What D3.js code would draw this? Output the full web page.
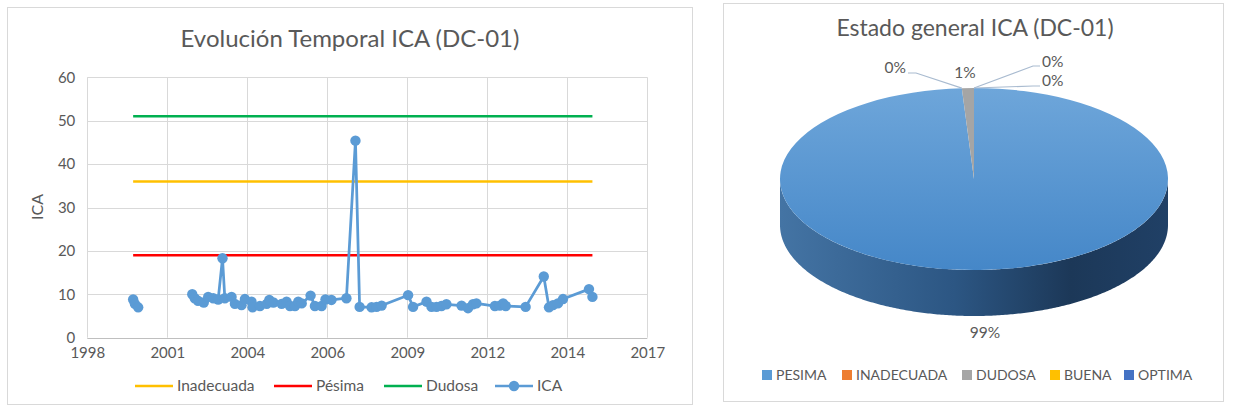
<!DOCTYPE html>
<html>
<head>
<meta charset="utf-8">
<script src="https://cdn.jsdelivr.net/npm/d3@7"></script>
<style>
  body { margin: 0; background: #fff; }
  svg text { font-family: Lato, "Open Sans", sans-serif; fill: #595959; }
</style>
</head>
<body>
<div id="graph"></div>
<script>
// fechas de muestreo y valores ICA (null = hueco en la serie)
var icaDates = ["2000-02-17","2000-03-10","2000-04-20", null,
  "2002-02-25","2002-03-28","2002-05-08","2002-07-19","2002-09-12","2002-11-14",
  "2003-01-15","2003-03-10","2003-04-08","2003-07-01","2003-08-12","2003-11-03","2003-12-15",
  "2004-03-07","2004-03-20","2004-06-20","2004-09-13","2004-10-15","2004-12-05",
  "2005-03-18","2005-05-19","2005-07-01","2005-09-01","2005-10-12","2005-11-24",
  "2006-03-15","2006-05-08","2006-07-31","2006-09-17","2006-12-01",
  "2007-06-06","2007-09-27","2007-11-18",
  "2008-04-15","2008-06-17","2008-08-19",
  "2009-07-16","2009-09-16",
  "2010-03-03","2010-05-05","2010-07-06","2010-09-06","2010-11-07",
  "2011-05-15","2011-08-04","2011-10-05","2011-11-17",
  "2012-07-05","2012-09-05","2012-10-16","2012-11-18",
  "2013-07-24",
  "2014-03-08","2014-05-12","2014-07-01","2014-09-01","2014-11-03",
  "2015-09-24","2015-11-06"]
var icaValues = [8.8, 7.8, 7.0, null,
  10.0, 9.1, 8.5, 8.1, 9.4, 9.1,
  8.8, 18.3, 9.1, 9.4, 7.8, 7.5, 8.9,
  8.3, 7.0, 7.3, 7.8, 8.7, 8.1,
  7.8, 8.3, 7.3, 7.3, 8.3, 7.9,
  9.7, 7.3, 7.3, 8.8, 8.7,
  9.1, 45.4, 7.1,
  7.0, 7.1, 7.4,
  9.8, 7.1,
  8.3, 7.1, 7.1, 7.3, 7.7,
  7.4, 6.8, 7.7, 7.9,
  7.3, 7.4, 7.9, 7.3,
  7.1,
  14.1, 7.0, 7.5, 7.9, 8.9,
  11.2, 9.4]

var thresholdNames  = ["Inadecuada", "Pésima", "Dudosa"]
var thresholdValues = [36, 19, 51]
var thresholdColors = ["#FFC000", "#FF0000", "#00B050"]

var yTicks = [0, 10, 20, 30, 40, 50, 60]
var xTickSerials = [36000, 37000, 38000, 39000, 40000, 41000, 42000, 43000]

var pieNames  = ["PESIMA", "INADECUADA", "DUDOSA", "BUENA", "OPTIMA"]
var pieValues = [99, 0, 1, 0, 0]
var pieColors = ["#5B9BD5", "#ED7D31", "#A5A5A5", "#FFC000", "#4472C4"]

var width = 1233, height = 411
var svg = d3.select("#graph").append("svg").attr("width", width).attr("height", height)
var defs = svg.append("defs")

var parse = d3.utcParse("%Y-%m-%d")
var excelDate = function(n){ return new Date(Date.UTC(1899, 11, 30) + n * 864e5) }

// ---------- panel izquierdo: evolución temporal ----------
svg.append("rect").attr("x", 7.5).attr("y", 7.5).attr("width", 685).attr("height", 397)
   .attr("fill", "#fff").attr("stroke", "#d9d9d9")

var plot = {left: 87.3, right: 647.3, top: 77.3, bottom: 337.7}

var x = d3.scaleUtc()
          .domain([excelDate(xTickSerials[0]), excelDate(xTickSerials[xTickSerials.length-1])])
          .range([plot.left, plot.right])
var y = d3.scaleLinear().domain([0, 60]).range([plot.bottom, plot.top])

var left = svg.append("g")

left.append("text").attr("x", 350).attr("y", 47).attr("text-anchor", "middle")
    .attr("font-size", "24px").text("Evolución Temporal ICA (DC-01)")

// grilla
left.append("g").selectAll("line").data(yTicks).enter().append("line")
    .attr("x1", plot.left).attr("x2", plot.right)
    .attr("y1", function(d){ return Math.round(y(d)) + 0.5 })
    .attr("y2", function(d){ return Math.round(y(d)) + 0.5 })
    .attr("stroke", function(d){ return d === 0 ? "#bfbfbf" : "#d9d9d9" })
left.append("g").selectAll("line").data(xTickSerials).enter().append("line")
    .attr("x1", function(d){ return Math.round(x(excelDate(d))) + 0.5 })
    .attr("x2", function(d){ return Math.round(x(excelDate(d))) + 0.5 })
    .attr("y1", plot.top).attr("y2", plot.bottom)
    .attr("stroke", "#d9d9d9")

var yAxis = d3.axisLeft(y).tickValues(yTicks).tickSize(0).tickPadding(12)
left.append("g").attr("transform", "translate(" + plot.left + ",0)").call(yAxis)
    .call(function(g){ g.select(".domain").remove() })
    .selectAll("text").attr("font-size", "15px").attr("fill", "#595959")
    .style("font-family", "Lato, sans-serif")

var xAxis = d3.axisBottom(x).tickValues(xTickSerials.map(excelDate))
              .tickFormat(d3.utcFormat("%Y")).tickSize(0).tickPadding(10)
left.append("g").attr("transform", "translate(0," + plot.bottom + ")").call(xAxis)
    .call(function(g){ g.select(".domain").remove() })
    .selectAll("text").attr("font-size", "15px").attr("fill", "#595959")
    .style("font-family", "Lato, sans-serif")

left.append("text").attr("transform", "translate(43,207) rotate(-90)")
    .attr("text-anchor", "middle").attr("font-size", "16px").text("ICA")

// líneas de umbral, de la primera a la última fecha
var validDates = icaDates.filter(function(d){ return d }).map(parse)
var firstDate = validDates[0], lastDate = validDates[validDates.length-1]
thresholdValues.forEach(function(v, i){
    left.append("line")
        .attr("x1", x(firstDate)).attr("x2", x(lastDate))
        .attr("y1", y(v)).attr("y2", y(v))
        .attr("stroke", thresholdColors[i]).attr("stroke-width", 2.5)
})

var icaData = icaDates.map(function(d, i){ return {date: d ? parse(d) : null, value: icaValues[i]} })
var line = d3.line()
             .defined(function(d){ return d.value !== null })
             .x(function(d){ return x(d.date) })
             .y(function(d){ return y(d.value) })
left.append("path").datum(icaData).attr("d", line)
    .attr("fill", "none").attr("stroke", "#5B9BD5").attr("stroke-width", 2.75)
    .attr("stroke-linejoin", "round")
left.append("g").selectAll("circle")
    .data(icaData.filter(function(d){ return d.value !== null }))
    .enter().append("circle")
    .attr("cx", function(d){ return x(d.date) })
    .attr("cy", function(d){ return y(d.value) })
    .attr("r", 5.2).attr("fill", "#5B9BD5")

// leyenda
var legendItems = [
    {name: thresholdNames[0], color: thresholdColors[0], x: 135},
    {name: thresholdNames[1], color: thresholdColors[1], x: 274},
    {name: thresholdNames[2], color: thresholdColors[2], x: 384},
    {name: "ICA", color: "#5B9BD5", x: 495, marker: true}]
var leg = left.selectAll(".leg").data(legendItems).enter().append("g")
              .attr("transform", function(d){ return "translate(" + d.x + ",386)" })
leg.append("line").attr("x1", 0).attr("x2", 38).attr("stroke", function(d){ return d.color })
   .attr("stroke-width", 2.5)
leg.filter(function(d){ return d.marker }).append("circle").attr("cx", 19).attr("r", 5.2)
   .attr("fill", "#5B9BD5")
leg.append("text").attr("x", 42).attr("dy", "0.35em").attr("font-size", "15.5px")
   .text(function(d){ return d.name })

// ---------- panel derecho: pastel 3D ----------
svg.append("rect").attr("x", 723.5).attr("y", 3.5).attr("width", 500).attr("height", 398)
   .attr("fill", "#fff").attr("stroke", "#d9d9d9")

var right = svg.append("g")
right.append("text").attr("x", 975).attr("y", 36).attr("text-anchor", "middle")
     .attr("font-size", "23px").text("Estado general ICA (DC-01)")

var cx = 974, cy = 179, rx = 194, ry = 91, depth = 46

var topGrad = defs.append("linearGradient").attr("id", "topGrad")
                  .attr("x1", 0).attr("y1", 0).attr("x2", 0).attr("y2", 1)
topGrad.append("stop").attr("offset", "0%").attr("stop-color", "#6ea6da")
topGrad.append("stop").attr("offset", "100%").attr("stop-color", "#4587c8")
var sideGrad = defs.append("linearGradient").attr("id", "sideGrad")
                   .attr("x1", 0).attr("y1", 0).attr("x2", 1).attr("y2", 0)
sideGrad.append("stop").attr("offset", "0%").attr("stop-color", "#4474a4")
sideGrad.append("stop").attr("offset", "45%").attr("stop-color", "#2c5683")
sideGrad.append("stop").attr("offset", "75%").attr("stop-color", "#1c3858")
sideGrad.append("stop").attr("offset", "100%").attr("stop-color", "#204066")

var arcs = d3.pie().sort(null).value(function(d){ return d })(pieValues)

var ellipsePt = function(a, dy){ return [cx + rx * Math.sin(a), cy - ry * Math.cos(a) + (dy || 0)] }

// paredes laterales (solo la mitad frontal es visible)
arcs.forEach(function(a, i){
    var a0 = Math.max(a.startAngle, Math.PI / 2), a1 = Math.min(a.endAngle, 3 * Math.PI / 2)
    if (a1 <= a0) return
    var steps = d3.range(a0, a1, 0.01).concat([a1])
    var pts = steps.map(function(t){ return ellipsePt(t) })
                   .concat(steps.slice().reverse().map(function(t){ return ellipsePt(t, depth) }))
    right.append("path").attr("d", d3.line()(pts) + "Z")
         .attr("fill", i === 0 ? "url(#sideGrad)" : d3.color(pieColors[i]).darker(1))
})

// cara superior
var arc = d3.arc().innerRadius(0).outerRadius(rx)
right.append("g").attr("transform", "translate(" + cx + "," + cy + ") scale(1," + (ry / rx) + ")")
     .selectAll("path").data(arcs).enter().append("path")
     .attr("d", arc)
     .attr("fill", function(d, i){ return i === 0 ? "url(#topGrad)" : pieColors[i] })

// etiquetas de porcentaje
var pctLabels = [
    {i: 0, tx: 985, ty: 333, anchor: "middle"},
    {i: 1, tx: 906, ty: 68, anchor: "end", elbow: [[916, 73], [908, 73]]},
    {i: 2, tx: 965, ty: 73, anchor: "middle"},
    {i: 3, tx: 1042, ty: 62, anchor: "start", elbow: [[1033, 66], [1040, 66]]},
    {i: 4, tx: 1042, ty: 81, anchor: "start", elbow: [[1033, 86], [1040, 86]]}]
pctLabels.forEach(function(l){
    var a = arcs[l.i]
    if (l.elbow) {
        var start = ellipsePt((a.startAngle + a.endAngle) / 2)
        right.append("path").attr("d", d3.line()([start].concat(l.elbow)))
             .attr("fill", "none").attr("stroke", "#a9bbd0").attr("stroke-width", 1.2)
    }
    right.append("text").attr("x", l.tx).attr("y", l.ty).attr("dy", "0.35em")
         .attr("text-anchor", l.anchor).attr("font-size", "15.5px")
         .text(Math.round(a.value) + "%")
})

// leyenda del pastel
var pieLegX = [762, 842, 962, 1050, 1124]
var pleg = right.selectAll(".pleg").data(pieNames).enter().append("g")
                .attr("transform", function(d, i){ return "translate(" + pieLegX[i] + ",375)" })
pleg.append("rect").attr("x", 0).attr("y", -5).attr("width", 10).attr("height", 10)
    .attr("fill", function(d, i){ return pieColors[i] })
pleg.append("text").attr("x", 14).attr("dy", "0.35em").attr("font-size", "14px")
    .text(function(d){ return d })
</script>
</body>
</html>
